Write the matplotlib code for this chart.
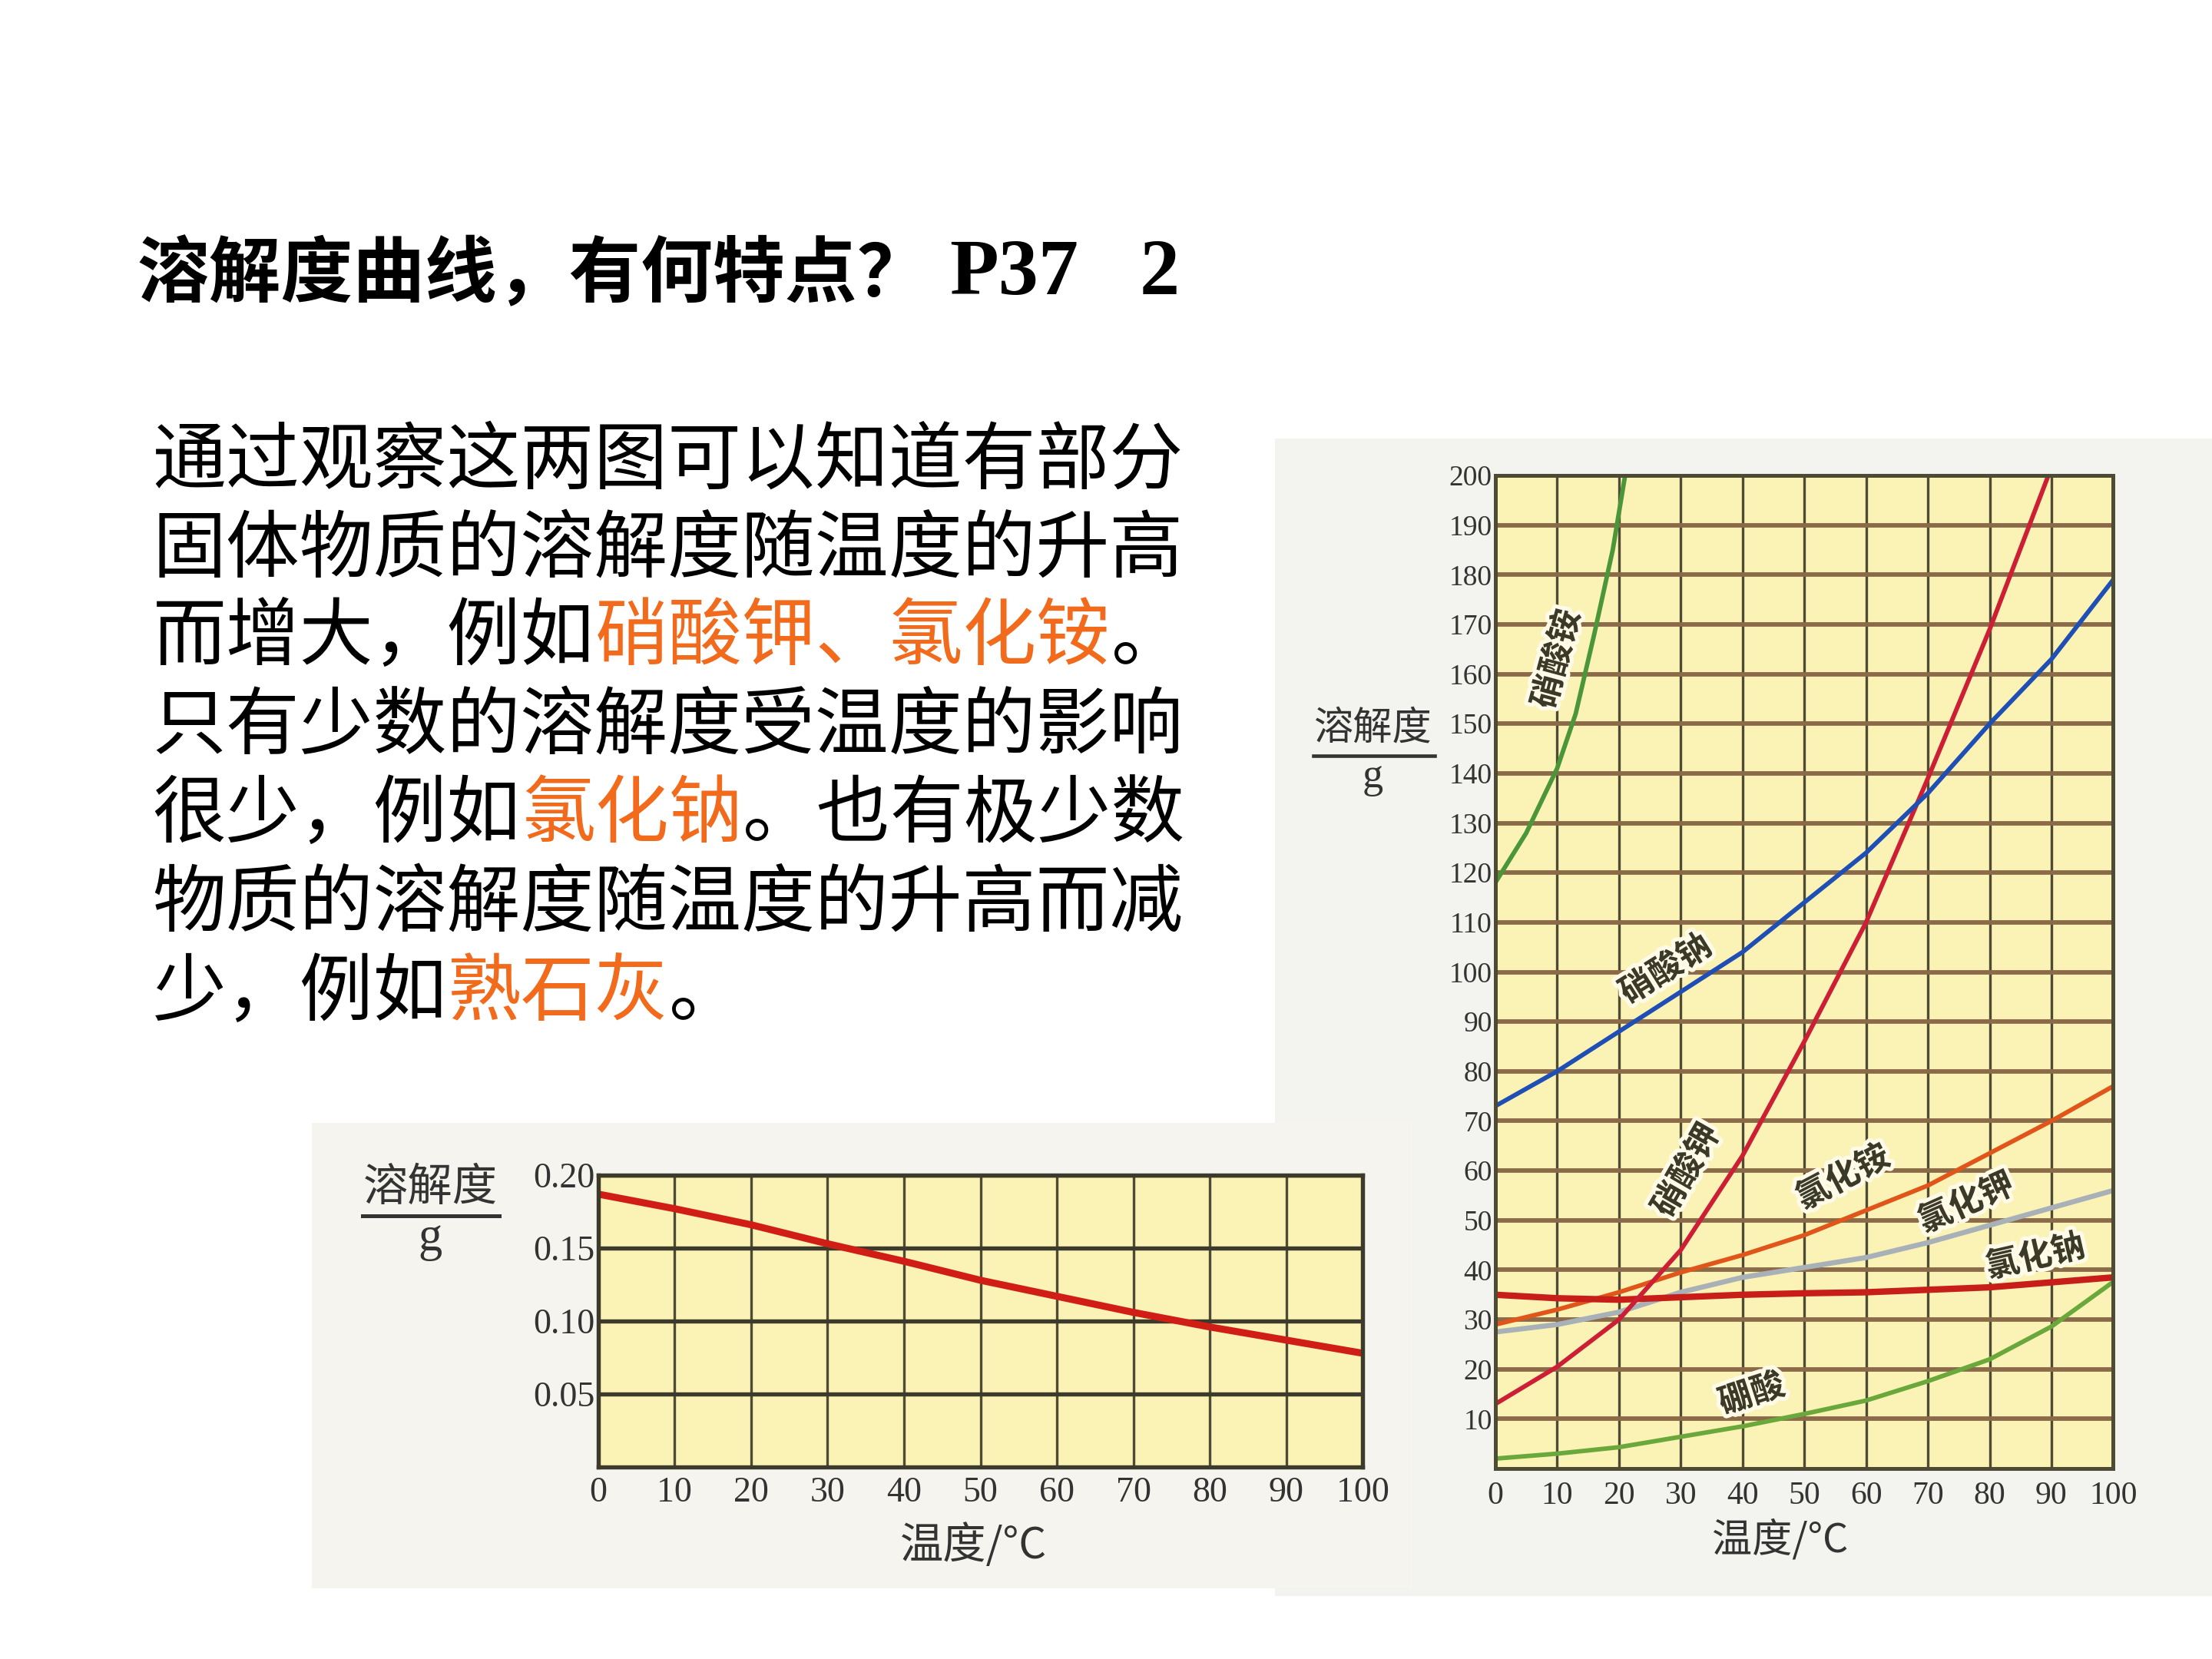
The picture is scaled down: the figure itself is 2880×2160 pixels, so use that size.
import matplotlib
matplotlib.use("Agg")
import matplotlib.pyplot as plt
import matplotlib.patheffects as pe
from matplotlib.lines import Line2D
from matplotlib.patches import Rectangle

plt.rcParams['font.family'] = ['Noto Sans CJK SC', 'DejaVu Sans']

# data
temps = [0, 10, 20, 30, 40, 50, 60, 70, 80, 90, 100]

# left chart: 熟石灰 (Ca(OH)2)
ca_oh2 = [0.187, 0.177, 0.166, 0.153, 0.141, 0.128, 0.117, 0.106, 0.096, 0.087, 0.078]

# right chart
nh4no3_t = [0, 5, 10, 13, 16, 19, 21]
nh4no3 = [118, 128, 141, 152, 168, 185, 200]
nano3 = [73, 80, 88, 96, 104, 114, 124, 136, 150, 163, 179]
kno3_t = [0, 10, 20, 30, 40, 50, 60, 70, 80, 89.5]
kno3 = [13, 20.5, 30, 44, 63, 86, 110, 139, 169, 200]
nh4cl = [29, 32, 35.5, 39.5, 43, 47, 52, 57, 63.5, 70, 77]
kcl = [27.5, 29, 31.5, 35.5, 38.5, 40.5, 42.5, 45.5, 49, 52.5, 56]
nacl = [35, 34.3, 34, 34.5, 35, 35.3, 35.5, 36, 36.5, 37.5, 38.5]
h3bo3 = [2, 3, 4.3, 6.4, 8.5, 11, 13.7, 17.6, 22, 28.6, 37.6]

x_ticks = [0, 10, 20, 30, 40, 50, 60, 70, 80, 90, 100]
right_yticks = list(range(10, 201, 10))
left_yticks = [0.05, 0.10, 0.15, 0.20]
left_ylabels = ['0.05', '0.10', '0.15', '0.20']

body_lines = [
    [("通过观察这两图可以知道有部分", 'k')],
    [("固体物质的溶解度随温度的升高", 'k')],
    [("而增大，例如", 'k'), ("硝酸钾、氯化铵", 'o'), ("。", 'k')],
    [("只有少数的溶解度受温度的影响", 'k')],
    [("很少，例如", 'k'), ("氯化钠", 'o'), ("。也有极少数", 'k')],
    [("物质的溶解度随温度的升高而减", 'k')],
    [("少，例如", 'k'), ("熟石灰", 'o'), ("。", 'k')],
]

W, H = 1568.0, 1176.0
def fx(x): return x / W
def fy(y): return 1 - y / H

fig = plt.figure(figsize=(9.6, 7.2), dpi=300)
fig.patch.set_facecolor('white')

# faint photo backgrounds behind the charts
fig.add_artist(Rectangle((fx(905), fy(1130)), fx(1568) - fx(905), fy(312) - fy(1130),
                         transform=fig.transFigure, color='#f3f3ef', zorder=0))
fig.add_artist(Rectangle((fx(222), fy(1125)), fx(1000) - fx(222), fy(797) - fy(1125),
                         transform=fig.transFigure, color='#f5f4ee', zorder=0))

# title
fig.text(fx(97), fy(195), "溶解度曲线，有何特点？", fontsize=22.5, fontweight='bold',
         va='center', ha='left')
fig.text(fx(673), fy(195), "P37", fontsize=25, fontweight='bold', family='Liberation Serif',
         va='center', ha='left')
fig.text(fx(808), fy(195), "2", fontsize=25, fontweight='bold', family='Liberation Serif',
         va='center', ha='left')

# body text, one em per CJK char
em = 52.3
line_y = [327, 390, 452, 515, 578, 641, 704]
for segs, y in zip(body_lines, line_y):
    n = 0
    for s, c in segs:
        col = '#f26a1c' if c == 'o' else 'black'
        fig.text(fx(108 + n * em), fy(y), s, fontsize=23, fontweight='medium', color=col,
                 va='center', ha='left')
        n += len(s)

ygrid_col = '#8a6a48'
xgrid_col = '#4e4b34'
bg_col = '#fbf2b6'

# ---------------- left chart ----------------
axl = fig.add_axes([fx(424), fy(1040), fx(966) - fx(424), fy(833) - fy(1040)])
axl.set_facecolor(bg_col)
axl.set_xlim(0, 100)
axl.set_ylim(0, 0.2)
axl.set_xticks(x_ticks)
axl.set_yticks(left_yticks)
axl.set_yticklabels(left_ylabels)
axl.xaxis.grid(True, color=xgrid_col, lw=0.8)
axl.yaxis.grid(True, color='#3c3a2a', lw=1.3)
axl.set_axisbelow(True)
axl.tick_params(length=0, labelsize=11, pad=3)
axl.tick_params(axis='y', pad=1)
for lab in axl.get_xticklabels() + axl.get_yticklabels():
    lab.set_family('Liberation Serif')
    lab.set_color('#333333')
for sp in axl.spines.values():
    sp.set_color('#3c3a2a')
    sp.set_linewidth(1.3)
axl.plot(temps, ca_oh2, color='#d01e16', lw=2.2, solid_capstyle='butt')

fig.text(fx(305), fy(842), "溶解度", fontsize=14, color='#333333', ha='center', va='center')
fig.add_artist(Line2D([fx(257), fx(354)], [fy(862), fy(862)], transform=fig.transFigure,
                      color='#333333', lw=1.2))
fig.text(fx(305), fy(878), "g", fontsize=15, color='#333333', ha='center', va='center',
         family='Liberation Serif')
fig.text(fx(690), fy(1096), "温度/°C", fontsize=13.5, color='#333333', ha='center', va='center')

# ---------------- right chart ----------------
axr = fig.add_axes([fx(1060), fy(1041), fx(1498) - fx(1060), fy(337) - fy(1041)])
axr.set_facecolor(bg_col)
axr.set_xlim(0, 100)
axr.set_ylim(0, 200)
axr.set_xticks(x_ticks)
axr.set_yticks(right_yticks)
axr.xaxis.grid(True, color=xgrid_col, lw=0.8)
axr.yaxis.grid(True, color=ygrid_col, lw=1.4)
axr.set_axisbelow(True)
axr.tick_params(length=0, labelsize=10, pad=4)
axr.tick_params(axis='y', labelsize=9, pad=1)
for lab in axr.get_xticklabels() + axr.get_yticklabels():
    lab.set_family('Liberation Serif')
    lab.set_color('#333333')
for sp in axr.spines.values():
    sp.set_color('#4e4b34')
    sp.set_linewidth(1.2)

axr.plot(temps, h3bo3, color='#6aa83c', lw=1.4)
axr.plot(temps, kcl, color='#a9b1b8', lw=1.6)
axr.plot(temps, nh4cl, color='#e0561a', lw=1.4)
axr.plot(temps, nacl, color='#c81e1a', lw=2.0)
axr.plot(kno3_t, kno3, color='#cc1f36', lw=1.4)
axr.plot(temps, nano3, color='#1f4fb4', lw=1.4)
axr.plot(nh4no3_t, nh4no3, color='#4c963a', lw=1.4)

# curve names, dark print with a pale halo like the scanned book
halo = [pe.withStroke(linewidth=2.5, foreground='#fffbe8')]
lab_kw = dict(fontsize=10.5, fontweight='bold', color='#3b3a28', ha='center', va='center',
              rotation_mode='anchor', path_effects=halo)
axr.text(10.0, 163, "硝酸铵", rotation=75, **lab_kw)
axr.text(27.6, 100.5, "硝酸钠", rotation=32, **lab_kw)
axr.text(31, 60, "硝酸钾", rotation=60, **lab_kw)
axr.text(56.3, 58.6, "氯化铵", rotation=28, **lab_kw)
axr.text(76.2, 53.4, "氯化钾", rotation=24, **lab_kw)
axr.text(87.4, 42.6, "氯化钠", rotation=13, **lab_kw)
axr.text(41.5, 15, "硼酸", rotation=18, **lab_kw)

fig.text(fx(973), fy(516), "溶解度", fontsize=12.3, color='#333333', ha='center', va='center')
fig.add_artist(Line2D([fx(931), fx(1017)], [fy(536), fy(536)], transform=fig.transFigure,
                      color='#333333', lw=1.1))
fig.text(fx(973), fy(551), "g", fontsize=13, color='#333333', ha='center', va='center',
         family='Liberation Serif')
fig.text(fx(1262), fy(1092), "温度/°C", fontsize=12.5, color='#333333', ha='center', va='center')

fig.savefig("out.png", dpi=300, facecolor='white')
